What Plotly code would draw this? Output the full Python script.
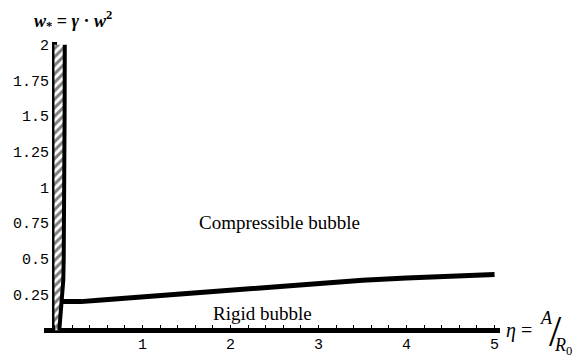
import plotly.graph_objects as go

# Boundary between rigid and compressible regimes (eta vs w*)
curve_eta = [0.08, 0.3, 0.5, 1.0, 1.5, 2.0, 2.5, 3.0, 3.5, 4.0, 4.5, 5.0]
curve_w = [0.2, 0.2, 0.21, 0.234, 0.26, 0.285, 0.31, 0.33, 0.35, 0.365, 0.376, 0.39]

# Hatched band near eta = 0 (right boundary)
band_w = [0, 0.1, 0.2, 0.35, 0.5, 0.75, 1.0, 1.5, 2.0]
band_eta = [0.055, 0.07, 0.08, 0.1, 0.105, 0.11, 0.113, 0.115, 0.117]

xtick_vals = [1, 2, 3, 4, 5]
xtick_text = ["1", "2", "3", "4", "5"]
ytick_vals = [0.25, 0.5, 0.75, 1, 1.25, 1.5, 1.75, 2]
ytick_text = ["0.25", "0.5", "0.75", "1", "1.25", "1.5", "1.75", "2"]

ML, MR, MT, MB = 44, 80, 42, 24
W, H = 580, 357

fig = go.Figure()

# hatched band
fig.add_trace(go.Scatter(
    x=[0] * len(band_w) + band_eta[::-1],
    y=band_w + band_w[::-1],
    fill="toself", mode="none",
    fillpattern=dict(shape="/", fgcolor="black", bgcolor="white", size=6, solidity=0.5),
    hoverinfo="skip", showlegend=False))
fig.add_trace(go.Scatter(x=band_eta, y=band_w, mode="lines",
                         line=dict(color="black", width=4), showlegend=False))
# boundary curve
fig.add_trace(go.Scatter(x=curve_eta, y=curve_w, mode="lines",
                         line=dict(color="black", width=5), showlegend=False))

serif = "Liberation Serif"
mono = "Liberation Mono"


def px(xp, yp):
    pw, ph = W - ML - MR, H - MT - MB
    return (xp - ML) / pw, (H - MB - yp) / ph


anns = []
for text, xp, yp, size in [
    ("Compressible bubble", 279, 222, 19),
    ("Rigid bubble", 262, 313, 19),
    ("<b><i>w</i><sub>*</sub> = <i>γ</i> · <i>w</i><sup>2</sup></b>", 73, 20, 18),
    ("<i>η</i> =", 519, 330, 20),
    ("<i>A</i>", 546, 318, 18),
    ("/", 555, 331, 44),
    ("<i>R</i><sub>0</sub>", 563, 346, 18),
]:
    x_, y_ = px(xp, yp)
    anns.append(dict(text=text, x=x_, y=y_, xref="paper", yref="paper",
                     xanchor="center", yanchor="middle",
                     showarrow=False, font=dict(family=serif, size=size, color="black")))

fig.update_layout(
    width=W, height=H,
    margin=dict(l=ML, r=MR, t=MT, b=MB),
    plot_bgcolor="white", paper_bgcolor="white",
    xaxis=dict(range=[-0.119, 5.062], tickvals=xtick_vals, ticktext=xtick_text,
               showgrid=False, zeroline=True, zerolinecolor="black", zerolinewidth=4.5,
               ticks="inside", ticklen=8, tickwidth=1, tickcolor="black",
               minor=dict(dtick=0.2, tick0=0, ticks="inside", ticklen=8, tickcolor="black"),
               tickfont=dict(family=mono, size=15, color="black"), showline=False,
               automargin=False),
    yaxis=dict(range=[-0.02, 2.02], tickvals=ytick_vals, ticktext=ytick_text,
               showgrid=False, zeroline=True, zerolinecolor="black", zerolinewidth=4.5,
               ticks="", ticklabelstandoff=-6,
               tickfont=dict(family=mono, size=15, color="black"), showline=False,
               automargin=False),
    annotations=anns,
)

fig.write_html("out.html", config={"displayModeBar": False},
               post_script="document.body.style.margin='0px';")
